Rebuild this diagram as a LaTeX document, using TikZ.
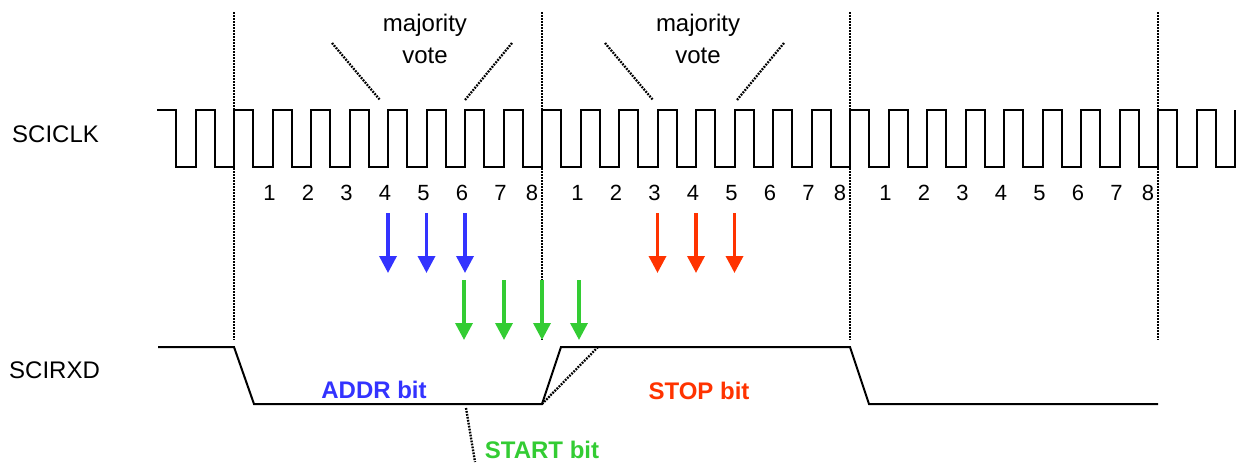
\documentclass[tikz,border=0pt]{standalone}
\usepackage{fontspec}
\setmainfont{Liberation Sans}
\usepackage{xcolor}
\definecolor{addrBlue}{HTML}{3333FF}
\definecolor{stopRed}{HTML}{FF3300}
\definecolor{startGreen}{HTML}{33CC33}
\usetikzlibrary{arrows.meta,positioning}
\tikzset{%
  waveLine/.style={%
    line width=2pt,
    color=black
  },
  gridLine/.style={%
    line width=1.3pt,
    dash pattern=on 2pt off 1pt
  },
  voteLine/.style={%
    line width=2.3pt,
    dash pattern=on 1.8pt off 1.2pt
  },
  sampleArrow/.style={%
    -{Triangle[length=17pt,width=17pt]},
    line width=3.5pt
  },
  sigLabel/.style={%
    font=\fontsize{24}{28}\selectfont,
    anchor=base west,
    inner sep=0pt
  },
  voteLabel/.style={%
    font=\fontsize{24}{32}\selectfont,
    align=center,
    inner sep=0pt
  },
  countLabel/.style={%
    font=\fontsize{22}{26}\selectfont,
    anchor=base,
    inner sep=0pt
  },
  bitLabel/.style={%
    font=\fontsize{24}{28}\selectfont\bfseries,
    anchor=base,
    inner sep=0pt
  }
}

\begin{document}
\begin{tikzpicture}[x=1pt,y=-1pt]
  \useasboundingbox (0,0) rectangle (1236,463);

  % signal names
  \node[sigLabel] (clkLabel) at (12,142) {SCICLK};
  \node[sigLabel] (rxdLabel) at (9,378) {SCIRXD};

  % bit frame borders
  \foreach \g in {0,...,3}
    \draw[gridLine] (234+\g*308,12) -- (234+\g*308,340);

  % SCICLK
  \draw[waveLine] (157,110)
    \foreach \k in {0,...,27} {-- ++(19.25,0) -- ++(0,57) -- ++(19.25,0) -- ++(0,-57)};

  % sample counts
  \foreach \g in {0,1,2}
    \foreach \k in {1,...,8} {
      \pgfmathsetmacro\nx{234+\g*308+\k*38.5-((\k==8) ? 10 : 3)}
      \node[countLabel] (cnt\g\k) at (\nx,200) {\k};
    }

  % SCIRXD
  \draw[waveLine] (158,347) -- (234,347) -- (254,404) -- (542,404)
    -- (561,347) -- (850,347) -- (869,404) -- (1158,404);
  \coordinate (riseLow) at (542,404);
  \coordinate (riseHigh) at (598,347);
  \draw[voteLine] (riseLow) -- (riseHigh);

  % majority vote
  \node[voteLabel] (vote1) at (425,39) {majority\\vote};
  \node[voteLabel] (vote2) at (698,39) {majority\\vote};
  \coordinate (v1a) at (332,43);
  \coordinate (v1b) at (380,100);
  \coordinate (v1c) at (512,43);
  \coordinate (v1d) at (465,100);
  \coordinate (v2a) at (605,43);
  \coordinate (v2b) at (653,100);
  \coordinate (v2c) at (784,43);
  \coordinate (v2d) at (737,100);
  \draw[voteLine] (v1a) -- (v1b);
  \draw[voteLine] (v1c) -- (v1d);
  \draw[voteLine] (v2a) -- (v2b);
  \draw[voteLine] (v2c) -- (v2d);

  % sampling arrows
  \foreach \i/\x in {1/388,2/426.5,3/465} {
    \coordinate (addrTop\i) at (\x,213);
    \coordinate (addrBot\i) at (\x,273);
    \draw[sampleArrow,addrBlue] (addrTop\i) -- (addrBot\i);
  }
  \foreach \i/\x in {1/657.5,2/696,3/734.5} {
    \coordinate (stopTop\i) at (\x,213);
    \coordinate (stopBot\i) at (\x,273);
    \draw[sampleArrow,stopRed] (stopTop\i) -- (stopBot\i);
  }
  \foreach \i/\x in {1/464,2/504,3/542,4/579} {
    \coordinate (startTop\i) at (\x,280);
    \coordinate (startBot\i) at (\x,340);
    \draw[sampleArrow,startGreen] (startTop\i) -- (startBot\i);
  }

  % bit names
  \node[bitLabel,text=addrBlue] (addrBit) at (374,398) {ADDR bit};
  \node[bitLabel,text=stopRed] (stopBit) at (699,399) {STOP bit};
  \node[bitLabel,text=startGreen] (startBit) at (542,458) {START bit};
  \coordinate (startTip) at (466,408);
  \coordinate (startEnd) at (475,462);
  \draw[voteLine] (startTip) -- (startEnd);
\end{tikzpicture}
\end{document}
